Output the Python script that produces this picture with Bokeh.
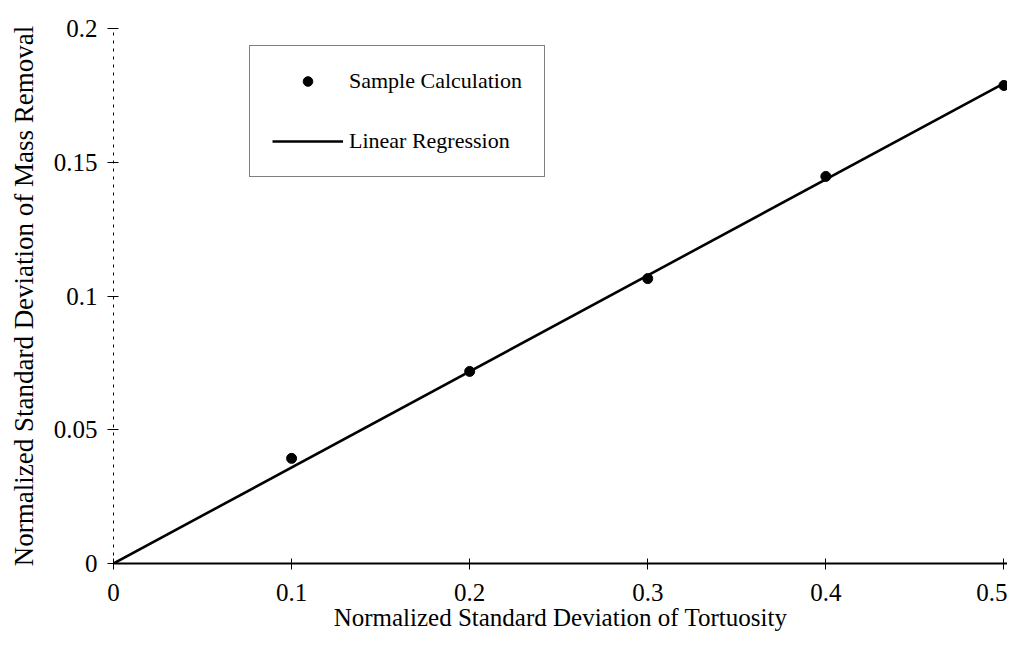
from bokeh.plotting import figure
from bokeh.models import Range1d, Legend, LegendItem, FixedTicker, ColumnDataSource
from bokeh.embed import file_html
from bokeh.resources import INLINE

# Data
sample_x = [0.1, 0.2, 0.3, 0.4, 0.5]
sample_y = [0.0393, 0.0718, 0.1065, 0.1447, 0.1787]
reg_x = [0.0, 0.5]
reg_y = [0.0, 0.1795]
x_ticks = [0, 0.1, 0.2, 0.3, 0.4, 0.5]
y_ticks = [0, 0.05, 0.1, 0.15, 0.2]
x_tick_labels = {0: "0", 0.1: "0.1", 0.2: "0.2", 0.3: "0.3", 0.4: "0.4", 0.5: "0.5"}
y_tick_labels = {0: "0", 0.05: "0.05", 0.1: "0.1", 0.15: "0.15", 0.2: "0.2"}

FONT = "Liberation Serif"

p = figure(width=1007, height=634, output_backend="svg", toolbar_location=None,
           x_range=Range1d(0, 0.502), y_range=Range1d(0, 0.2),
           min_border_left=113, min_border_right=0, min_border_top=28, min_border_bottom=71)
p.outline_line_color = None
p.grid.visible = False
p.background_fill_color = "white"
p.border_fill_color = "white"

# Axes
p.xaxis.ticker = FixedTicker(ticks=x_ticks)
p.yaxis.ticker = FixedTicker(ticks=y_ticks)
p.xaxis.major_label_overrides = x_tick_labels
p.yaxis.major_label_overrides = y_tick_labels
for ax in (p.xaxis[0], p.yaxis[0]):
    ax.major_label_text_font = FONT
    ax.major_label_text_font_size = "25px"
    ax.major_label_text_color = "black"
    ax.axis_label_text_font = FONT
    ax.axis_label_text_font_style = "normal"
    ax.axis_label_text_color = "black"
    ax.minor_tick_line_color = None
    ax.major_tick_line_color = "black"
    ax.major_tick_in = 5
    ax.major_tick_out = 6
    ax.axis_line_color = "black"

p.xaxis.axis_label = "Normalized Standard Deviation of Tortuosity"
p.xaxis.axis_label_text_font_size = "25px"
p.xaxis.axis_line_width = 2
p.xaxis.major_label_standoff = 14
p.xaxis.axis_label_standoff = 0

p.yaxis.axis_label = "Normalized Standard Deviation of Mass Removal"
p.yaxis.axis_label_text_font_size = "27px"
p.yaxis.axis_line_dash = "3 5"
p.yaxis.axis_line_width = 1
p.yaxis.major_label_standoff = 10
p.yaxis.axis_label_standoff = 12

# Data
src_pts = ColumnDataSource(dict(x=sample_x, y=sample_y))
src_reg = ColumnDataSource(dict(x=reg_x, y=reg_y))
line_r = p.line("x", "y", source=src_reg, line_color="black", line_width=2.6)
pts_r = p.scatter("x", "y", source=src_pts, size=10, marker="circle",
                  fill_color="black", line_color="black", level="overlay")

legend = Legend(items=[LegendItem(label="Sample Calculation", renderers=[pts_r]),
                       LegendItem(label="Linear Regression", renderers=[line_r])],
                location=(136, 386))
legend.label_text_font = FONT
legend.label_text_font_size = "22px"
legend.label_text_color = "black"
legend.glyph_width = 71
legend.glyph_height = 24
legend.label_height = 24
legend.spacing = 34
legend.padding = 22
legend.margin = 0
legend.label_standoff = 6
legend.border_line_color = "black"
legend.border_line_width = 1
legend.background_fill_alpha = 1
p.add_layout(legend, "center")

open("out.html", "w").write(file_html(p, INLINE))
